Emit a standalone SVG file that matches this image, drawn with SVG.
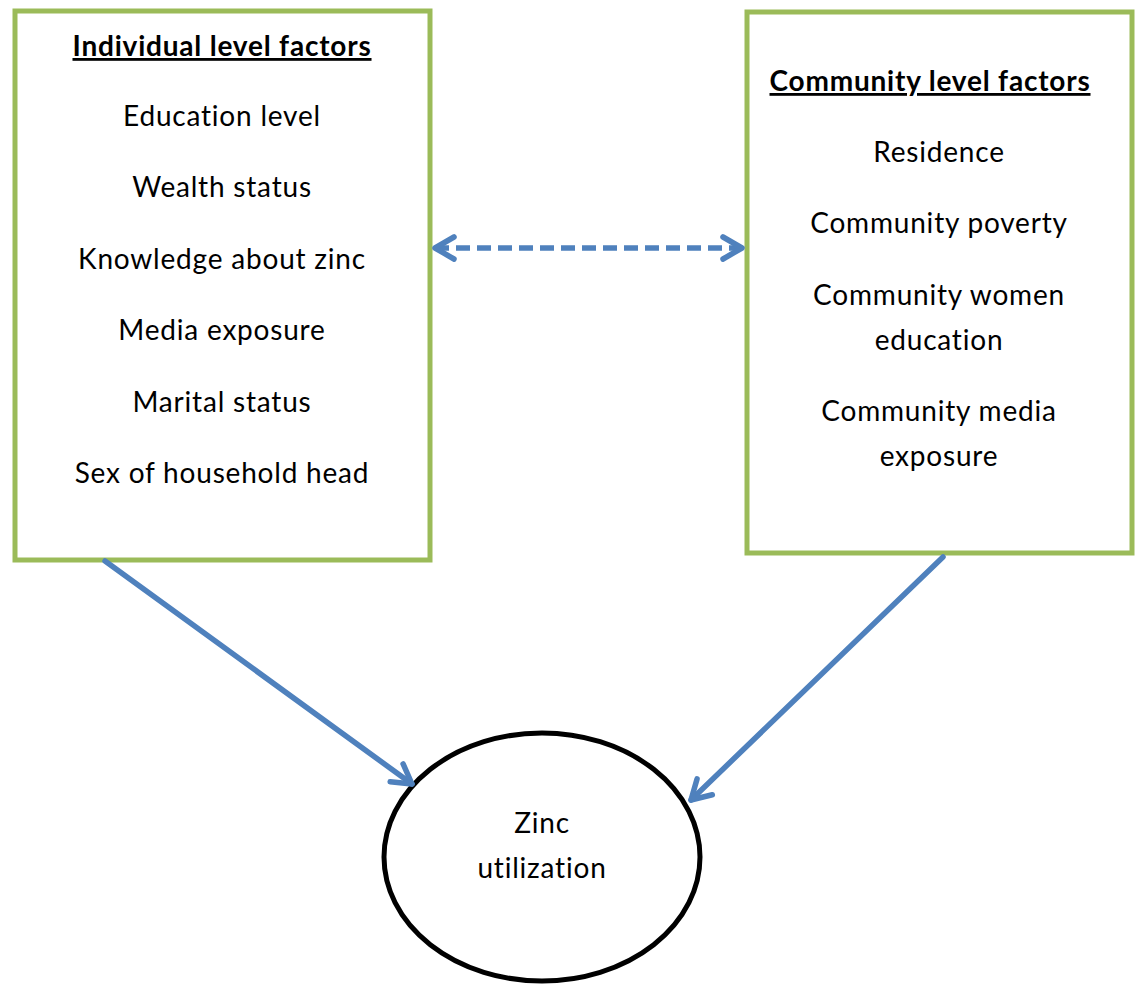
<svg xmlns="http://www.w3.org/2000/svg" width="1137" height="985" viewBox="0 0 1137 985">
<style>
.box{fill:#fff;stroke:#9bbb59;stroke-width:5}
.ell{fill:#fff;stroke:#000;stroke-width:5}
.t{font-family:Lato,"Open Sans","Liberation Sans",sans-serif;font-size:28px;letter-spacing:0.8px;fill:#000;text-anchor:middle}
.h{font-weight:bold;text-decoration:underline}
.c{fill:none;stroke:#4f81bd;stroke-width:5.5;stroke-linecap:round;stroke-linejoin:round}
.d{stroke-dasharray:14 7;stroke-linecap:butt}
</style>
<defs>
<marker id="ah" viewBox="0 0 28 28" refX="24" refY="14" markerWidth="28" markerHeight="28" markerUnits="userSpaceOnUse" orient="auto-start-reverse">
<path d="M5,3 L24,14 L5,25" fill="none" stroke="#4f81bd" stroke-width="5.5" stroke-linecap="round" stroke-linejoin="round"/>
</marker>
</defs>
<rect width="1137" height="985" fill="#fff"/>
<g id="individual">
<rect class="box" x="15" y="11" width="415" height="549"/>
<text class="t h" x="222" y="56">Individual level factors</text>
<text class="t" x="222" y="126">Education level</text>
<text class="t" x="222" y="197">Wealth status</text>
<text class="t" x="222" y="269">Knowledge about zinc</text>
<text class="t" x="222" y="340">Media exposure</text>
<text class="t" x="222" y="412">Marital status</text>
<text class="t" x="222" y="483">Sex of household head</text>
</g>
<g id="community">
<rect class="box" x="747" y="12" width="385" height="541"/>
<text class="t h" x="930" y="91">Community level factors</text>
<text class="t" x="939" y="162">Residence</text>
<text class="t" x="939" y="233">Community poverty</text>
<text class="t" x="939" y="305">Community women</text>
<text class="t" x="939" y="350">education</text>
<text class="t" x="939" y="421">Community media</text>
<text class="t" x="939" y="466">exposure</text>
</g>
<g id="zinc">
<ellipse class="ell" cx="542" cy="857" rx="158" ry="124"/>
<text class="t" x="542" y="833">Zinc</text>
<text class="t" x="542" y="878">utilization</text>
</g>
<g id="connectors">
<line class="c d" x1="435" y1="248" x2="742" y2="248" marker-start="url(#ah)" marker-end="url(#ah)"/>
<line class="c" x1="105" y1="561" x2="412" y2="784" marker-end="url(#ah)"/>
<line class="c" x1="943" y1="557" x2="691" y2="800" marker-end="url(#ah)"/>
</g>
</svg>
